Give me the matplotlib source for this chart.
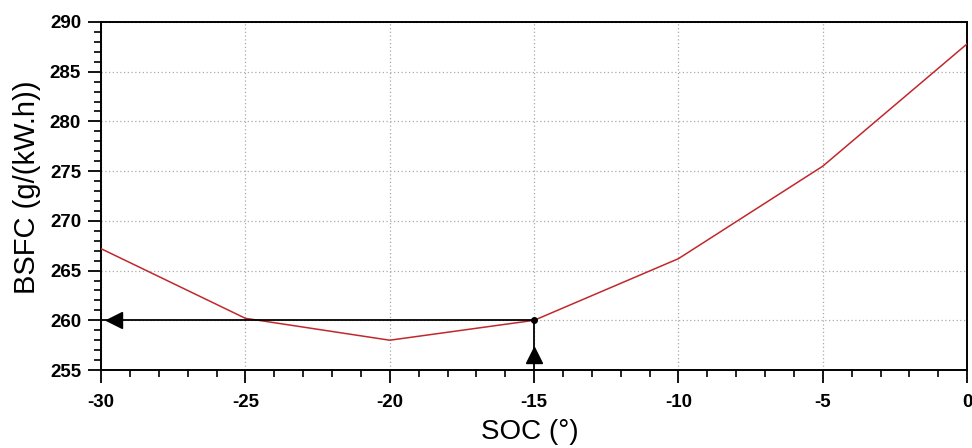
import matplotlib
matplotlib.use("Agg")
import matplotlib.pyplot as plt
from matplotlib.ticker import MultipleLocator

soc = [-30, -25, -20, -15, -10, -5, 0]
bsfc = [267.2, 260.2, 258.0, 260.0, 266.2, 275.5, 287.8]
opt_soc = -15
opt_bsfc = 260.0
xticks = [-30, -25, -20, -15, -10, -5, 0]
yticks = [255, 260, 265, 270, 275, 280, 285, 290]

plt.rcParams['font.family'] = ['Liberation Sans', 'DejaVu Sans']
plt.rcParams['axes.unicode_minus'] = False
fig = plt.figure(figsize=(9.72, 4.48), dpi=100)
ax = fig.add_axes([0.104, 0.174, 0.891, 0.777])

ax.plot(soc, bsfc, color='#c0282d', lw=1.1, zorder=3)
# guide lines
ax.plot([opt_soc, -30], [opt_bsfc, opt_bsfc], color='black', lw=1.3, zorder=4)
ax.plot([opt_soc, opt_soc], [opt_bsfc, 255], color='black', lw=1.3, zorder=4)
ax.plot([-29.55], [opt_bsfc], marker='<', color='black', ms=11, zorder=5)
ax.plot([opt_soc], [256.5], marker='^', color='black', ms=11, zorder=5)
ax.plot([opt_soc], [opt_bsfc], marker='o', color='black', ms=4, zorder=6)

ax.set_xlim(-30, 0)
ax.set_ylim(255, 290)
ax.set_xticks(xticks)
ax.set_yticks(yticks)
ax.xaxis.set_minor_locator(MultipleLocator(1))
ax.yaxis.set_minor_locator(MultipleLocator(1))
ax.tick_params(which='major', direction='out', length=9.4, width=1.3, labelsize=13.5)
ax.tick_params(axis='x', which='major', pad=8)
ax.tick_params(axis='y', which='major', pad=5)
ax.tick_params(which='minor', direction='out', length=5, width=1.2)
for lab in ax.get_xticklabels() + ax.get_yticklabels():
    lab.set_fontweight('bold')
ax.grid(True, which='major', linestyle=(0, (1, 2)), color='#aaaaaa', lw=0.9)
for s in ax.spines.values():
    s.set_linewidth(1.4)
ax.set_xlabel('SOC (°)', fontsize=20)
ax.xaxis.set_label_coords(0.495, -0.14)
ax.xaxis.label.set_va('top')
ax.set_ylabel('BSFC (g/(kW.h))', fontsize=21)
ax.yaxis.set_label_coords(-0.069, 0.526)
fig.savefig('out.png', dpi=100)
